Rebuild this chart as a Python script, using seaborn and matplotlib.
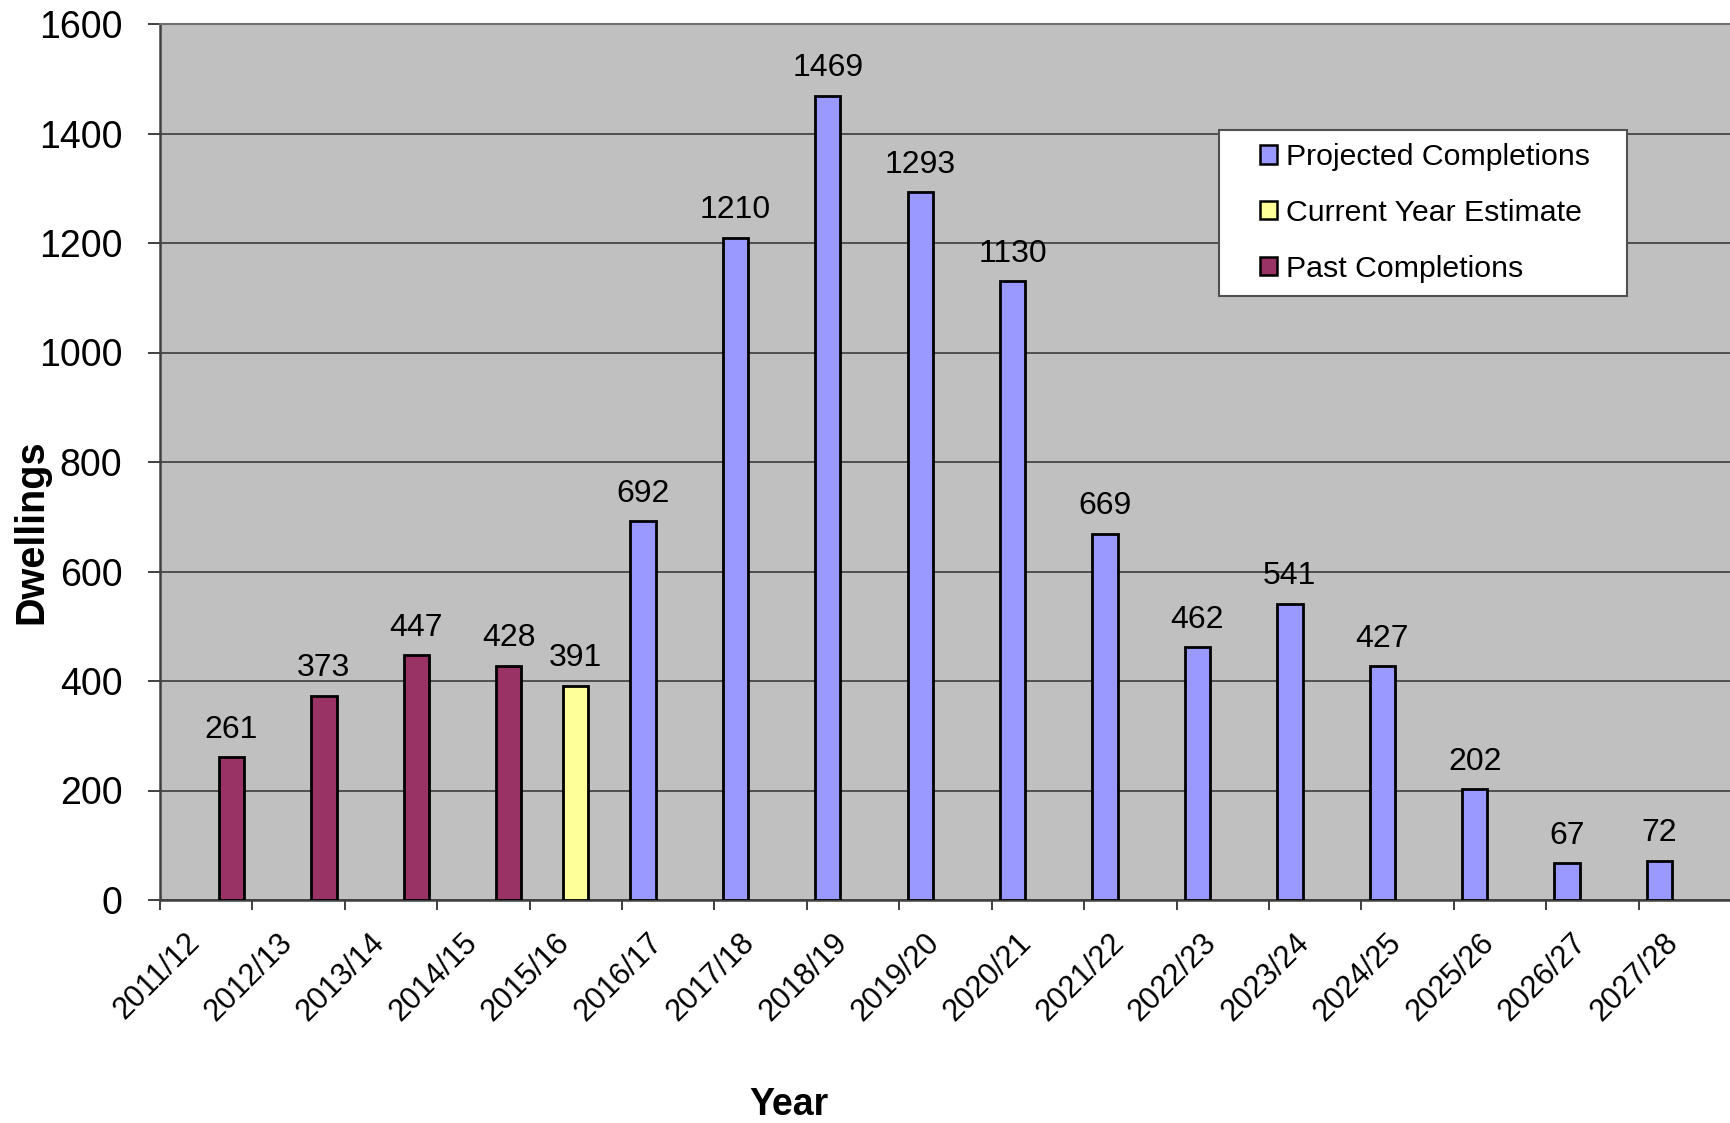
import matplotlib
matplotlib.use("Agg")
import matplotlib.pyplot as plt
from matplotlib.patches import Rectangle
from matplotlib.transforms import ScaledTranslation
import seaborn as sns
import pandas as pd
import numpy as np

years = ["2011/12", "2012/13", "2013/14", "2014/15", "2015/16", "2016/17", "2017/18",
         "2018/19", "2019/20", "2020/21", "2021/22", "2022/23", "2023/24", "2024/25",
         "2025/26", "2026/27", "2027/28"]
series = ["Projected Completions", "Current Year Estimate", "Past Completions"]
colors = ["#9999FF", "#FFFF99", "#993366"]

past_years = ["2011/12", "2012/13", "2013/14", "2014/15"]
past_values = [261, 373, 447, 428]
current_years = ["2015/16"]
current_values = [391]
projected_years = ["2016/17", "2017/18", "2018/19", "2019/20", "2020/21", "2021/22",
                   "2022/23", "2023/24", "2024/25", "2025/26", "2026/27", "2027/28"]
projected_values = [692, 1210, 1469, 1293, 1130, 669, 462, 541, 427, 202, 67, 72]

rows = []
for y, v in zip(projected_years, projected_values):
    rows.append((y, v, series[0]))
for y, v in zip(current_years, current_values):
    rows.append((y, v, series[1]))
for y, v in zip(past_years, past_values):
    rows.append((y, v, series[2]))
df = pd.DataFrame(rows, columns=["Year", "Dwellings", "Series"])

plt.rcParams["font.family"] = ["Liberation Sans", "DejaVu Sans"]

W, H = 1731, 1123
fig = plt.figure(figsize=(W / 100, H / 100), dpi=100)
ax = fig.add_axes([160 / W, 1 - 900 / H, 1571 / W, 876 / H])
ax.set_facecolor("#C0C0C0")

sns.barplot(data=df, x="Year", y="Dwellings", hue="Series", order=years,
            hue_order=series, palette=colors, width=0.82, dodge=True,
            edgecolor="black", linewidth=2.0, saturation=1, ax=ax, zorder=3)

for cont in ax.containers:
    ax.bar_label(cont, fmt="%d", padding=9, fontsize=23, color="black")

ax.set_ylim(0, 1600)
ax.set_xlim(-0.5, len(years) - 0.5)
ax.set_yticks(np.arange(0, 1601, 200))
ax.yaxis.grid(True, color="#303030", linewidth=1.1, zorder=0)
ax.set_axisbelow(True)

ax.set_xticks(np.arange(len(years)))
ax.set_xticklabels(years, rotation=45, ha="right", va="top", fontsize=22)
shift = ScaledTranslation(8 / 100, 0, fig.dpi_scale_trans)
for lbl in ax.get_xticklabels():
    lbl.set_transform(lbl.get_transform() + shift)
ax.set_xticks(np.arange(-0.5, len(years), 1.0), minor=True)
ax.tick_params(axis="x", which="major", length=0, pad=20)
ax.tick_params(axis="x", which="minor", length=7, width=1.3, color="#303030", direction="out")
ax.tick_params(axis="y", length=9, width=1.3, color="#303030", pad=18, labelsize=27)

for s in ["left", "bottom"]:
    ax.spines[s].set_color("#404040")
    ax.spines[s].set_linewidth(1.8)
ax.spines["top"].set_color("#707070")
ax.spines["top"].set_linewidth(1.5)
ax.spines["right"].set_visible(False)

ax.set_xlabel("")
ax.set_ylabel("")
fig.text(789 / W, 1 - 1115 / H, "Year", ha="center", va="baseline",
         fontsize=27, fontweight="bold")
fig.text(31 / W, 1 - 532 / H, "Dwellings", ha="center", va="center",
         rotation=90, fontsize=28.5, fontweight="bold")

# legend box
x0 = (1219 - 160) / 1571
y1 = (900 - 130) / 876
x1 = (1627 - 160) / 1571
y0 = (900 - 296) / 876
box = Rectangle((x0, y0), x1 - x0, y1 - y0, transform=ax.transAxes,
                facecolor="white", edgecolor="#505050", linewidth=1.5, zorder=10)
ax.add_patch(box)

handles, labels = ax.get_legend_handles_labels()
old = ax.get_legend()
if old is not None:
    old.remove()
leg = ax.legend(handles, labels, loc="center left",
                bbox_to_anchor=((1260 - 160) / 1571, (y0 + y1) / 2),
                frameon=False, fontsize=21.8, handlelength=0.55, handleheight=0.55,
                handletextpad=0.3, labelspacing=0.92, borderpad=0, borderaxespad=0)
leg.set_zorder(20)
for h in leg.legend_handles:
    h.set_edgecolor("black")
    h.set_linewidth(1.8)

fig.savefig("out.png", dpi=100)
